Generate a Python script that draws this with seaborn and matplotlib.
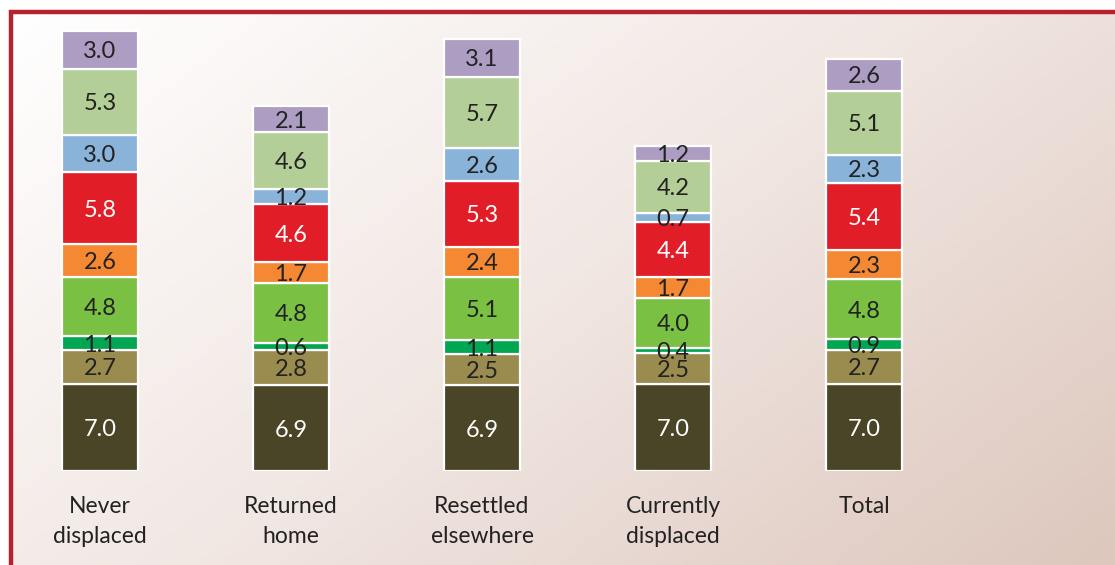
import numpy as np
import pandas as pd
import matplotlib.pyplot as plt
import matplotlib.colors as mcolors
from matplotlib.lines import Line2D
import seaborn as sb

categories = ["Never\ndisplaced", "Returned\nhome", "Resettled\nelsewhere", "Currently\ndisplaced", "Total"]

# stacked segments, bottom to top
seg_1 = [7.0, 6.9, 6.9, 7.0, 7.0]
seg_2 = [2.7, 2.8, 2.5, 2.5, 2.7]
seg_3 = [1.1, 0.6, 1.1, 0.4, 0.9]
seg_4 = [4.8, 4.8, 5.1, 4.0, 4.8]
seg_5 = [2.6, 1.7, 2.4, 1.7, 2.3]
seg_6 = [5.8, 4.6, 5.3, 4.4, 5.4]
seg_7 = [3.0, 1.2, 2.6, 0.7, 2.3]
seg_8 = [5.3, 4.6, 5.7, 4.2, 5.1]
seg_9 = [3.0, 2.1, 3.1, 1.2, 2.6]

segments = [seg_1, seg_2, seg_3, seg_4, seg_5, seg_6, seg_7, seg_8, seg_9]
seg_colors = ["#4a4527", "#9a8b4e", "#00a651", "#7ac143", "#f58833",
              "#e11d27", "#8ab3d9", "#b3cf97", "#ad9dc3"]
label_colors = ["white", "#222222", "#222222", "#222222", "#222222",
                "white", "#222222", "#222222", "#222222"]

plt.rcParams['font.family'] = ['Lato', 'DejaVu Sans']

fig = plt.figure(figsize=(11.15, 5.65), dpi=100)

# background gradient inside the frame
fx0 = 9 / 1115
fy1 = 1 - 10 / 565
bg = fig.add_axes([fx0, 0, 1 - fx0, fy1])
xx, yy = np.meshgrid(np.linspace(0, 1, 300), np.linspace(0, 1, 300))
t = (xx * 0.6 + yy * 0.4)
cmap = mcolors.LinearSegmentedColormap.from_list("bg", ["#ffffff", "#f1e7e3", "#ddc7bd"])
bg.imshow(t, cmap=cmap, aspect='auto', extent=[0, 1, 0, 1], origin='upper', vmin=0, vmax=1)
bg.axis('off')

# red frame
fig.add_artist(Line2D([fx0 + 1.5 / 1115, fx0 + 1.5 / 1115], [0, fy1], transform=fig.transFigure,
                      color="#b7212e", lw=3.2, solid_capstyle='butt'))
fig.add_artist(Line2D([fx0, 1], [fy1 - 1.5 / 565, fy1 - 1.5 / 565], transform=fig.transFigure,
                      color="#b7212e", lw=3.2, solid_capstyle='butt'))

ax = fig.add_axes([4.5 / 1115, 94 / 565, 955 / 1115, 36 * 12.46 / 565])
ax.patch.set_alpha(0)

cum = np.zeros(len(categories))
for vals, col, lcol in zip(segments, seg_colors, label_colors):
    vals = np.array(vals)
    df = pd.DataFrame({"cat": categories, "val": vals})
    sb.barplot(data=df, x="cat", y="val", bottom=cum, color=col, width=0.395,
               edgecolor="white", linewidth=1.6, saturation=1, ax=ax)
    for i, v in enumerate(vals):
        ax.text(i, cum[i] + v / 2, f"{v:.1f}", ha='center', va='center_baseline',
                fontsize=17, color=lcol)
    cum = cum + vals

ax.set_xlim(-0.5, 4.5)
ax.set_ylim(0, 36)
ax.set_xlabel("")
ax.set_ylabel("")
ax.set_yticks([])
ax.tick_params(axis='x', length=0, pad=18, labelsize=16.5, labelcolor="#222222")
for lab in ax.get_xticklabels():
    lab.set_linespacing(1.55)
for s in ax.spines.values():
    s.set_visible(False)

fig.savefig("out.png", dpi=100)
